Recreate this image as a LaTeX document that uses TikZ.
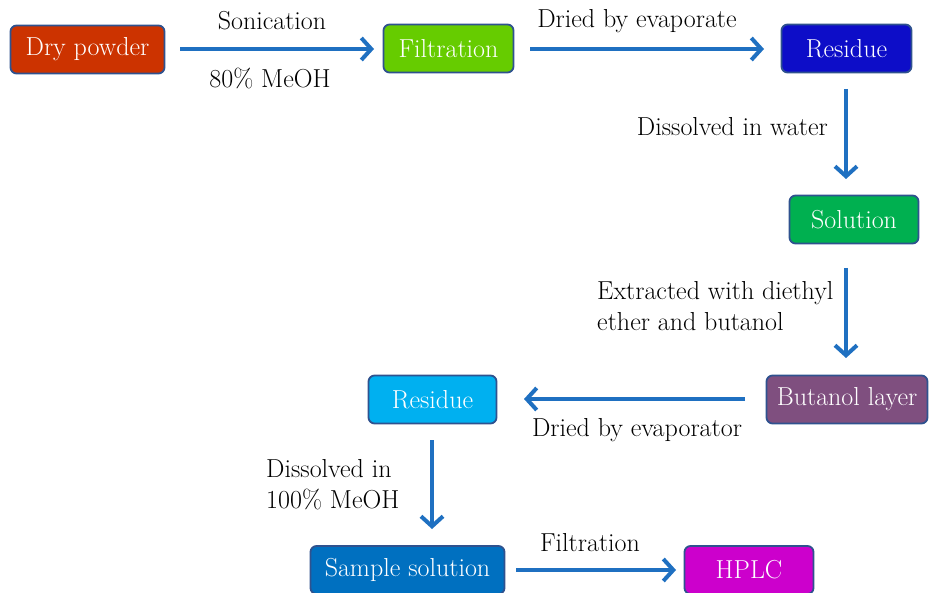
\documentclass[tikz,border=0pt]{standalone}
\usepackage{fontspec}
\setmainfont{Latin Modern Roman}
\usetikzlibrary{arrows.meta}
\definecolor{cdry}{HTML}{CC3300}
\definecolor{cfilt}{HTML}{66CC00}
\definecolor{cres}{HTML}{0D0DC8}
\definecolor{csol}{HTML}{00B050}
\definecolor{cbut}{HTML}{7F4F7F}
\definecolor{cres2}{HTML}{00B0F0}
\definecolor{csamp}{HTML}{0070C0}
\definecolor{chplc}{HTML}{CC00CC}
\definecolor{cborder}{HTML}{2F528F}
\definecolor{carrow}{HTML}{1F70C1}
\tikzset{
  box/.style={draw=cborder, line width=1.8pt, rounded corners=6pt, text=white,
    minimum height=48pt, inner sep=0pt, font=\fontsize{26}{31}\selectfont},
  lbl/.style={text=black, inner sep=0pt, font=\fontsize{26}{31}\selectfont},
  flow/.style={draw=carrow, line width=4pt, -{Straight Barb[length=10pt,width=22pt,line width=4pt]}}
}
\begin{document}
\begin{tikzpicture}[x=1pt,y=-1pt]
\useasboundingbox (0,0) rectangle (929,593);
% boxes
\node[box, fill=cdry, minimum width=154pt] (dry) at (87.5,49.5) {Dry powder};
\node[box, fill=cfilt, minimum width=130pt] (filt) at (448.5,48.5) {Filtration};
\node[box, fill=cres, minimum width=130pt] (res1) at (846.5,48.5) {Residue};
\node[box, fill=csol, minimum width=129pt] (sol) at (854,219.5) {Solution};
\node[box, fill=cbut, minimum width=161pt] (but) at (847,399.5) {Butanol layer};
\node[box, fill=cres2, minimum width=128pt] (res2) at (432.5,399.5) {Residue};
\node[box, fill=csamp, minimum width=194pt] (samp) at (407.5,570) {Sample solution};
\node[box, fill=chplc, minimum width=129pt] (hplc) at (749,570) {HPLC};
% arrows
\coordinate (a1s) at (180,49); \coordinate (a1e) at (374,49);
\draw[flow] (a1s) -- (a1e);
\coordinate (a2s) at (530,49); \coordinate (a2e) at (764,49);
\draw[flow] (a2s) -- (a2e);
\coordinate (a3s) at (846,89); \coordinate (a3e) at (846,179);
\draw[flow] (a3s) -- (a3e);
\coordinate (a4s) at (846,268); \coordinate (a4e) at (846,358);
\draw[flow] (a4s) -- (a4e);
\coordinate (a5s) at (745,399); \coordinate (a5e) at (524,399);
\draw[flow] (a5s) -- (a5e);
\coordinate (a6s) at (432,440); \coordinate (a6e) at (432,529);
\draw[flow] (a6s) -- (a6e);
\coordinate (a7s) at (516,570); \coordinate (a7e) at (676,570);
\draw[flow] (a7s) -- (a7e);
% labels
\node[lbl] (l1) at (272,21) {Sonication};
\node[lbl] (l2) at (270,78) {80\% MeOH};
\node[lbl] (l3) at (637,21) {Dried by evaporate};
\node[lbl, anchor=east] (l4) at (828,127) {Dissolved in water};
\node[lbl, anchor=north west, align=left] (l5) at (597,281) {Extracted with diethyl\\ether and butanol};
\node[lbl] (l6) at (637,430) {Dried by evaporator};
\node[lbl, anchor=north west, align=left] (l7) at (266,459) {Dissolved in\\100\% MeOH};
\node[lbl] (l8) at (590,543) {Filtration};
\end{tikzpicture}
\end{document}
